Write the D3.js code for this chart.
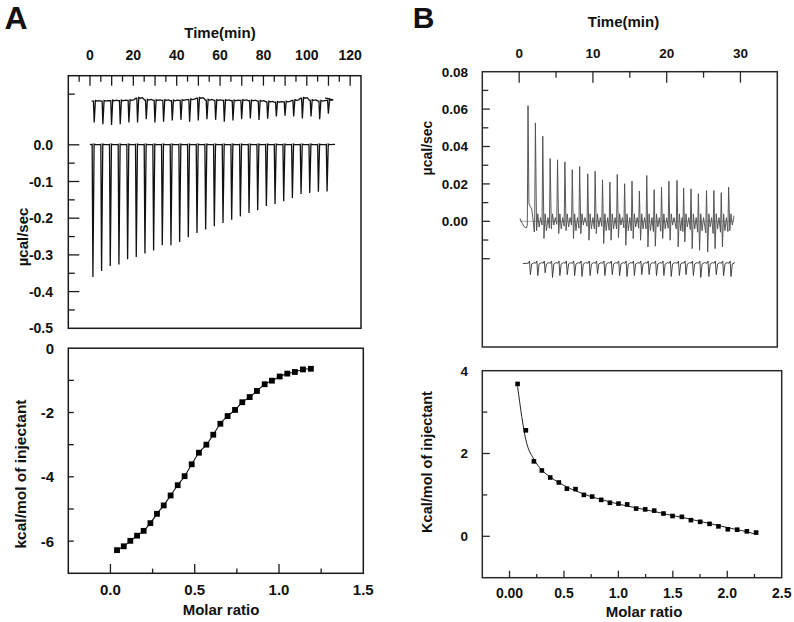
<!DOCTYPE html>
<html><head><meta charset="utf-8">
<script src="https://cdn.jsdelivr.net/npm/d3@7"></script>
<style>
body{margin:0;background:#fff}
svg{display:block}
text{font-family:"Liberation Sans",Arial,sans-serif;font-weight:bold;fill:#111}
</style>
</head><body>
<svg id="c" width="794" height="622"></svg>
<script>
// ---------- Panel A, raw thermogram ----------
const injTimeA = [1,5,9,13,17,21,25,29,33,37,41,45,49,53,57,61,65,69,73,77,81,85,89,93,97,101,105,109];
const peakA = [-0.36,-0.344,-0.33,-0.326,-0.312,-0.306,-0.296,-0.288,-0.274,-0.274,-0.265,-0.252,-0.24,-0.231,-0.222,-0.213,-0.204,-0.195,-0.186,-0.178,-0.167,-0.161,-0.154,-0.145,-0.134,-0.131,-0.128,-0.127];
const upperBaseA = [0.119,0.119,0.120,0.120,0.121,0.127,0.122,0.121,0.121,0.120,0.121,0.123,0.127,0.122,0.121,0.121,0.120,0.121,0.120,0.119,0.117,0.116,0.117,0.121,0.127,0.121,0.119,0.121];
const upperPeakA = [0.061,0.056,0.054,0.056,0.061,0.061,0.070,0.061,0.063,0.066,0.068,0.063,0.066,0.070,0.068,0.063,0.066,0.070,0.072,0.068,0.071,0.077,0.079,0.077,0.072,0.077,0.070,0.085];
const timeTicksA = [0,20,40,60,80,100,120];
const rateTicksA = [0,-0.1,-0.2,-0.3,-0.4,-0.5];
const rateLabelsA = ["0.0","-0.1","-0.2","-0.3","-0.4","-0.5"];

// ---------- Panel A, integrated heats ----------
const molarA = [0.039,0.079,0.118,0.158,0.197,0.237,0.276,0.316,0.357,0.399,0.440,0.482,0.525,0.569,0.610,0.652,0.695,0.739,0.782,0.826,0.869,0.915,0.958,1.004,1.049,1.094,1.142,1.189];
const heatA = [-6.28,-6.16,-5.99,-5.83,-5.68,-5.44,-5.15,-4.89,-4.58,-4.26,-3.98,-3.61,-3.25,-3.00,-2.69,-2.35,-2.11,-1.92,-1.68,-1.52,-1.33,-1.12,-1.01,-0.88,-0.79,-0.74,-0.66,-0.64];
const molarTicksA = [0,0.5,1.0,1.5];
const molarLabelsA = ["0.0","0.5","1.0","1.5"];
const heatTicksA = [0,-2,-4,-6];
const heatLabelsA = ["0","-2","-4","-6"];

// ---------- Panel B, raw thermogram ----------
const injTimeB = [1.2,2.2,3.2,4.2,5.2,6.2,7.2,8.2,9.3,10.3,11.3,12.3,13.3,14.3,15.3,16.3,17.3,18.3,19.3,20.3,21.4,22.3,23.3,24.3,25.4,26.4,27.4,28.4];
const peakB = [0.0619,0.0526,0.0455,0.0336,0.0329,0.0318,0.0276,0.0293,0.0254,0.0267,0.0222,0.021,0.0251,0.0201,0.0215,0.0162,0.0245,0.0169,0.0183,0.0215,0.0219,0.0178,0.0174,0.0148,0.0165,0.0165,0.0153,0.0183];
const dipB = [-0.0057,-0.005,-0.0092,-0.004,-0.0066,-0.005,-0.0092,-0.0066,-0.0101,-0.0066,-0.0119,-0.0101,-0.0087,-0.0128,-0.0092,-0.0101,-0.0137,-0.0133,-0.0092,-0.0101,-0.0137,-0.011,-0.0146,-0.0155,-0.0164,-0.0146,-0.0137,-0.005];
const wigB = [-0.004,-0.003,-0.005,-0.002,-0.004,-0.003,-0.005,-0.002,-0.004,-0.003,-0.005,-0.004,-0.002,-0.005,-0.003,-0.004,-0.005,-0.003,-0.004,-0.002,-0.005,-0.003,-0.004,-0.005,-0.003,-0.004,-0.005,-0.002];
const startB = [[0.1,0.0015],[0.4,-0.001],[0.7,-0.003],[1.0,-0.0035],[1.1,-0.002]];
const tailB = [[1.32,0.0095],[1.5,0.008],[1.7,0.0065],[1.85,0.002],[2.05,-0.0057]];
const lowPeakB = [-0.0285,-0.029,-0.0275,-0.030,-0.029,-0.0285,-0.029,-0.0295,-0.029,-0.028,-0.029,-0.0285,-0.029,-0.0295,-0.029,-0.0285,-0.0285,-0.029,-0.029,-0.0295,-0.029,-0.0285,-0.029,-0.030,-0.0295,-0.0285,-0.029,-0.0295];
const timeTicksB = [0,10,20,30];
const rateTicksB = [0.08,0.06,0.04,0.02,0.0];
const rateLabelsB = ["0.08","0.06","0.04","0.02","0.00"];

// ---------- Panel B, integrated heats ----------
const molarB = [0.074,0.150,0.224,0.297,0.374,0.453,0.527,0.606,0.683,0.759,0.842,0.922,1.001,1.081,1.163,1.246,1.329,1.414,1.497,1.583,1.666,1.751,1.837,1.919,2.005,2.091,2.180,2.265];
const heatB = [3.68,2.56,1.81,1.59,1.42,1.30,1.15,1.14,1.00,0.96,0.88,0.81,0.79,0.77,0.67,0.65,0.62,0.55,0.49,0.47,0.39,0.35,0.30,0.24,0.17,0.16,0.12,0.09];
const fitB = [3.62,2.33,1.86,1.60,1.43,1.30,1.19,1.10,1.02,0.95,0.89,0.83,0.78,0.73,0.69,0.64,0.60,0.55,0.50,0.46,0.41,0.36,0.31,0.26,0.21,0.16,0.11,0.05];
const molarTicksB = [0,0.5,1.0,1.5,2.0,2.5];
const molarLabelsB = ["0.00","0.5","1.0","1.5","2.0","2.5"];
const heatTicksB = [4,2,0];
const heatLabelsB = ["4","2","0"];

const svg = d3.select("#c");

// scales
const xAt = d3.scaleLinear([-10,125],[68.3,361]);
const yAt = d3.scaleLinear([-0.5,0.1883],[328.3,75.7]);
const xAb = d3.scaleLinear([-0.25,1.5],[68.3,363.3]);
const yAb = d3.scaleLinear([-7,0],[573.3,348.2]);
const xBt = d3.scaleLinear([-5,35],[482.3,777.3]);
const yBt = d3.scaleLinear([-0.0672,0.08],[347,71.7]);
const xBb = d3.scaleLinear([-0.25,2.5],[482.3,781.7]);
const yBb = d3.scaleLinear([-1,4],[577.7,370.7]);

function frame(xs, ys, color){
  const [x0,x1]=xs.range(), [y0,y1]=ys.range();
  svg.append("rect").attr("x",x0).attr("y",Math.min(y0,y1)).attr("width",x1-x0).attr("height",Math.abs(y0-y1))
    .attr("fill","none").attr("stroke",color).attr("stroke-width",1.5);
}
function xTicks(scale, vals, y, len, color){
  svg.append("g").selectAll("line").data(vals).join("line")
    .attr("x1",d=>scale(d)).attr("x2",d=>scale(d)).attr("y1",y).attr("y2",y+len)
    .attr("stroke",color).attr("stroke-width",1.3);
}
function yTicks(scale, vals, x, len, color){
  svg.append("g").selectAll("line").data(vals).join("line")
    .attr("y1",d=>scale(d)).attr("y2",d=>scale(d)).attr("x1",x).attr("x2",x+len)
    .attr("stroke",color).attr("stroke-width",1.3);
}
function xLabels(scale, vals, labels, y, size){
  svg.append("g").selectAll("text").data(vals).join("text")
    .attr("x",d=>scale(d)).attr("y",y).attr("text-anchor","middle").attr("font-size",size)
    .text((d,i)=>labels[i]);
}
function yLabels(scale, vals, labels, x, size){
  svg.append("g").selectAll("text").data(vals).join("text")
    .attr("x",x).attr("y",d=>scale(d)).attr("dy","0.36em").attr("text-anchor","end").attr("font-size",size)
    .text((d,i)=>labels[i]);
}
function text(t, x, y, size, rot){
  const e = svg.append("text").attr("font-size",size).attr("text-anchor","middle").text(t);
  if(rot) e.attr("transform",`translate(${x},${y}) rotate(-90)`);
  else e.attr("x",x).attr("y",y);
}
function rng(a,b,s){ return d3.range(a,b+1e-9,s); }

// ===== Panel A top =====
frame(xAt, yAt, "#1a1a1a");
xTicks(xAt, rng(0,120,10), 75.7, 10, "#1a1a1a");
xTicks(xAt, rng(-5,115,10), 75.7, 6, "#1a1a1a");
yTicks(yAt, [0,-0.1,-0.2,-0.3,-0.4], 68.3, 11, "#1a1a1a");
yTicks(yAt, [0.138,-0.05,-0.15,-0.25,-0.35,-0.45], 68.3, 6.5, "#1a1a1a");
xLabels(xAt, timeTicksA, timeTicksA.map(String), 60, 14);
yLabels(yAt, rateTicksA, rateLabelsA, 53, 14);

const lineAt = d3.line().x(d=>xAt(d[0])).y(d=>yAt(d[1]));
const mainA = [[0,0.001]];
injTimeA.forEach((t,i)=>{
  mainA.push([t-0.3,0.0005],[t,0.001],[t+0.35,peakA[i]],[t+0.9,0.002],[t+1.6,0.0005]);
});
mainA.push([113,0.001]);
svg.append("path").attr("d",lineAt(mainA)).attr("fill","none").attr("stroke","#111").attr("stroke-width",1.3);
const upA = [[0.8,upperBaseA[0]]];
injTimeA.forEach((t,i)=>{
  const s=t+0.6, b=upperBaseA[i];
  upA.push([s-0.4,b],[s,b],[s+0.35,upperPeakA[i]],[s+0.9,b+0.002],[s+1.6,b],[s+2.6,b+0.0015]);
});
upA.push([108.5,0.127],[110.8,0.125]);
svg.append("path").attr("d",lineAt(upA)).attr("fill","none").attr("stroke","#111").attr("stroke-width",1.3);

text("Time(min)", 220, 38, 15);
text("\u00b5cal/sec", 28, 237, 15, true);
text("A", 16, 29.3, 32);

// ===== Panel A bottom =====
frame(xAb, yAb, "#1a1a1a");
xTicks(xAb, [0,0.5,1.0], 573.3, -9.3, "#1a1a1a");
xTicks(xAb, [0.25,0.75,1.25], 573.3, -4.7, "#1a1a1a");
yTicks(yAb, [-1,-2,-3,-4,-5,-6], 68.3, 5.5, "#1a1a1a");
xLabels(xAb, molarTicksA, molarLabelsA, 595, 15);
yLabels(yAb, heatTicksA, heatLabelsA, 54, 15);
const ptsA = molarA.map((m,i)=>[m,heatA[i]]);
svg.append("path").attr("d",d3.line().x(d=>xAb(d[0])).y(d=>yAb(d[1])).curve(d3.curveMonotoneX)(ptsA))
  .attr("fill","none").attr("stroke","#111").attr("stroke-width",1.1);
svg.append("g").selectAll("rect").data(ptsA).join("rect")
  .attr("x",d=>xAb(d[0])-2.9).attr("y",d=>yAb(d[1])-2.9).attr("width",5.8).attr("height",5.8).attr("fill","#000");
text("Molar ratio", 221, 615, 15);
text("kcal/mol of injectant", 26, 474, 15.5, true);

// ===== Panel B top =====
frame(xBt, yBt, "#2a2a2a");
xTicks(xBt, [0,10,20,30], 71.7, 11, "#2a2a2a");
xTicks(xBt, [5,15,25], 71.7, 6, "#2a2a2a");
yTicks(yBt, [0.06,0.04,0.02,0.0,-0.02], 482.3, 7.5, "#2a2a2a");
yTicks(yBt, [0.07,0.05,0.03,0.01,-0.01], 482.3, 6, "#2a2a2a");
xLabels(xBt, timeTicksB, timeTicksB.map(String), 58, 13.5);
yLabels(yBt, rateTicksB, rateLabelsB, 468, 13.5);

const lineBt = d3.line().x(d=>xBt(d[0])).y(d=>yBt(d[1]));
svg.append("path").attr("d",lineBt([[0.1,0],[29.1,0]])).attr("fill","none").attr("stroke","#9a9a9a").attr("stroke-width",0.8);
const mainB = startB.slice();
injTimeB.forEach((t,i)=>{
  if(i===0){ mainB.push([t,peakB[0]], ...tailB); return; }
  mainB.push([t-0.1,dipB[i-1]*0.4],[t,peakB[i]],[t+0.16,dipB[i]],[t+0.32,0.004],[t+0.5,wigB[i]],[t+0.7,0.002]);
});
mainB.push([29.1,0.003]);
svg.append("path").attr("d",lineBt(mainB)).attr("fill","none").attr("stroke","#505050").attr("stroke-width",0.95);
const lowB = [[0.5,-0.0226]];
injTimeB.forEach((t,i)=>{
  const s=t+0.2;
  lowB.push([s-0.15,-0.0224],[s,-0.0212],[s+0.12,lowPeakB[i]],[s+0.3,-0.0228],[s+0.6,-0.0221]);
});
lowB.push([29.0,-0.0228]);
svg.append("path").attr("d",lineBt(lowB)).attr("fill","none").attr("stroke","#333").attr("stroke-width",0.9);

text("Time(min)", 623.5, 27, 15);
text("\u00b5cal/sec", 432, 148, 14, true);
text("B", 423.5, 28.3, 30);

// ===== Panel B bottom =====
frame(xBb, yBb, "#2a2a2a");
xTicks(xBb, [0,0.5,1.0,1.5,2.0], 577.7, -7, "#2a2a2a");
xTicks(xBb, [0.25,0.75,1.25,1.75,2.25], 577.7, -3.7, "#2a2a2a");
yTicks(yBb, [2,0], 482.3, 7.5, "#2a2a2a");
yTicks(yBb, [3,1], 482.3, 5, "#2a2a2a");
xLabels(xBb, molarTicksB, molarLabelsB, 598, 14);
yLabels(yBb, heatTicksB, heatLabelsB, 468, 13.5);
const fitPtsB = molarB.map((m,i)=>[m,fitB[i]]);
svg.append("path").attr("d",d3.line().x(d=>xBb(d[0])).y(d=>yBb(d[1])).curve(d3.curveMonotoneX)(fitPtsB))
  .attr("fill","none").attr("stroke","#222").attr("stroke-width",1);
const ptsB = molarB.map((m,i)=>[m,heatB[i]]);
svg.append("g").selectAll("rect").data(ptsB).join("rect")
  .attr("x",d=>xBb(d[0])-2.3).attr("y",d=>yBb(d[1])-2.3).attr("width",4.6).attr("height",4.6).attr("fill","#000");
text("Molar ratio", 644, 617, 15);
text("Kcal/mol of injectant", 432, 462, 14.5, true);
</script>
</body></html>
